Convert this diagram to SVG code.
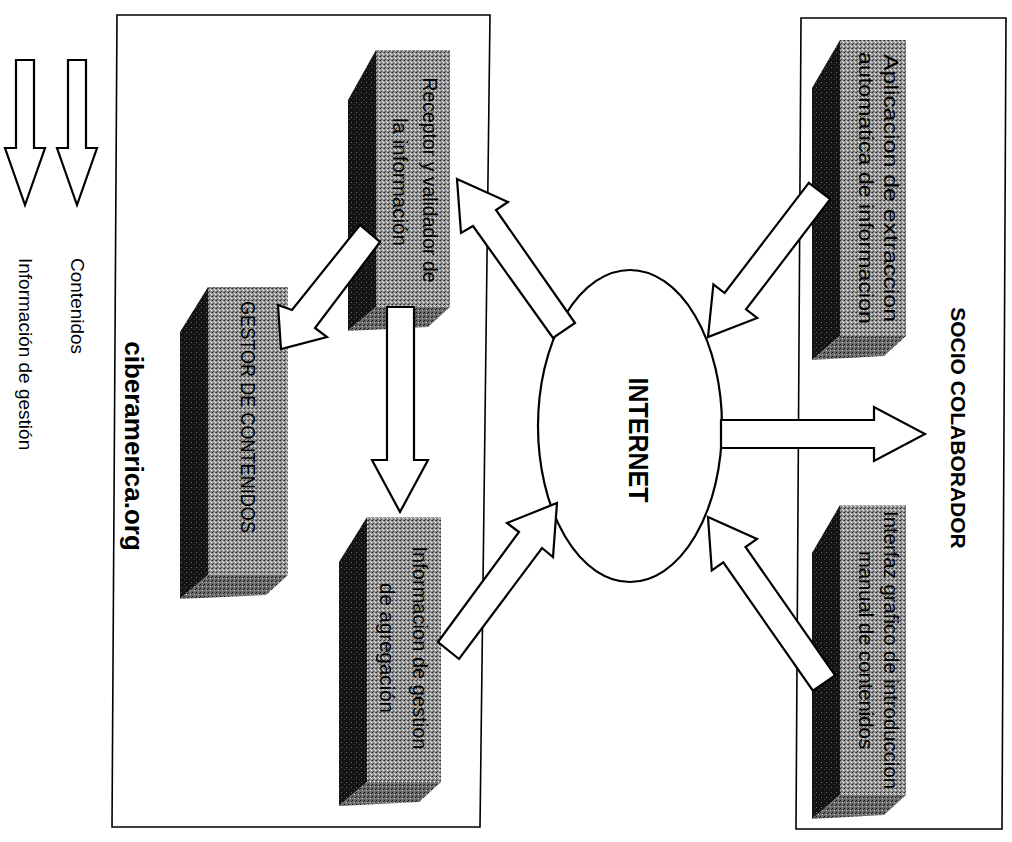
<svg xmlns="http://www.w3.org/2000/svg" width="1012" height="842" viewBox="0 0 1012 842">
<defs>
<pattern id="stipFront" width="4" height="4" patternUnits="userSpaceOnUse">
<rect width="4" height="4" fill="#969696"/>
<rect x="0" y="0" width="1" height="1" fill="#222"/>
<rect x="2" y="1" width="1" height="1" fill="#e8e8e8"/>
<rect x="1" y="3" width="1" height="1" fill="#444"/>
<rect x="3" y="2" width="1" height="1" fill="#f0f0f0"/>
<rect x="3" y="0" width="1" height="1" fill="#666"/>
</pattern>
<pattern id="stipSide" width="5" height="5" patternUnits="userSpaceOnUse">
<rect width="5" height="5" fill="#141414"/>
<rect x="1" y="2" width="1" height="1" fill="#6a6a6a"/>
<rect x="4" y="4" width="1" height="1" fill="#444"/>
</pattern>
<pattern id="stipBottom" width="4" height="4" patternUnits="userSpaceOnUse">
<rect width="4" height="4" fill="#6a6a6a"/>
<rect x="0" y="0" width="1" height="1" fill="#111"/>
<rect x="2" y="2" width="1" height="1" fill="#c8c8c8"/>
<rect x="3" y="1" width="1" height="1" fill="#222"/>
</pattern>
</defs>
<style>
.frame{fill:none;stroke:#000;stroke-width:1.6}
.front{fill:url(#stipFront)}
.side{fill:url(#stipSide)}
.bottom{fill:url(#stipBottom)}
.arrow{fill:#fff;stroke:#000;stroke-width:2.2;stroke-linejoin:miter}
.blk{font-family:"Liberation Sans",Arial,sans-serif;font-size:21px;fill:#000}
.title{font-family:"Liberation Sans",Arial,sans-serif;font-weight:bold;fill:#000}
.leg{font-family:"Liberation Sans",Arial,sans-serif;font-size:19px;fill:#000}
</style>
<rect width="1012" height="842" fill="#fff"/>

<g id="frame-ciberamerica">
<path class="frame" d="M117,15 L490,15 L480,827 L112,827 Z"/>
<text class="title" font-size="26" text-anchor="middle" dominant-baseline="central" transform="translate(134,446) rotate(90)">ciberamerica.org</text>
</g>
<g id="frame-socio">
<path class="frame" d="M801,18 L1006,18 L1002,829 L796,829 Z"/>
<text class="title" font-size="21" text-anchor="middle" dominant-baseline="central" transform="translate(958,428) rotate(90)">SOCIO COLABORADOR</text>
</g>

<g id="node-aplicacion">
<polygon class="side" points="840,40 812,88 812,360 840,336"/>
<polygon class="bottom" points="840,336 906,336 884,356 812,360"/>
<rect class="front" x="840" y="40" width="66" height="296"/>
<text class="blk" text-anchor="middle" dominant-baseline="central" textLength="268" lengthAdjust="spacingAndGlyphs" transform="translate(891,188) rotate(90)">Aplicacion de extraccion</text>
<text class="blk" text-anchor="middle" dominant-baseline="central" textLength="272" lengthAdjust="spacingAndGlyphs" transform="translate(866,188) rotate(90)">automatica de informacion</text>
</g>

<g id="node-interfaz">
<polygon class="side" points="840,505 812,553 812,819 840,795"/>
<polygon class="bottom" points="840,795 906,795 884,815 812,819"/>
<rect class="front" x="840" y="505" width="66" height="290"/>
<text class="blk" text-anchor="middle" dominant-baseline="central" textLength="278" lengthAdjust="spacingAndGlyphs" transform="translate(891,650) rotate(90)">Interfaz grafico de introduccion</text>
<text class="blk" text-anchor="middle" dominant-baseline="central" textLength="198" lengthAdjust="spacingAndGlyphs" transform="translate(866,650) rotate(90)">manual de contenidos</text>
</g>

<g id="node-receptor">
<polygon class="side" points="376,50 348,100 348,331 376,307"/>
<polygon class="bottom" points="376,307 450,307 428,327 348,331"/>
<rect class="front" x="376" y="50" width="74" height="257"/>
<text class="blk" text-anchor="middle" dominant-baseline="central" textLength="205" lengthAdjust="spacingAndGlyphs" transform="translate(430,180) rotate(90)">Receptor y validador de</text>
<text class="blk" text-anchor="middle" dominant-baseline="central" textLength="128" lengthAdjust="spacingAndGlyphs" transform="translate(400,182) rotate(90)">la información</text>
</g>

<g id="node-gestor">
<polygon class="side" points="208,287 180,332 180,599 208,575"/>
<polygon class="bottom" points="208,575 288,575 266,595 180,599"/>
<rect class="front" x="208" y="287" width="80" height="288"/>
<text class="blk" font-size="20" text-anchor="middle" dominant-baseline="central" textLength="232" lengthAdjust="spacingAndGlyphs" transform="translate(248,417) rotate(90)">GESTOR DE CONTENIDOS</text>
</g>

<g id="node-informacion">
<polygon class="side" points="367,517 339,562 339,806 367,782"/>
<polygon class="bottom" points="367,782 441,782 419,802 339,806"/>
<rect class="front" x="367" y="517" width="74" height="265"/>
<text class="blk" text-anchor="middle" dominant-baseline="central" textLength="203" lengthAdjust="spacingAndGlyphs" transform="translate(420,648) rotate(90)">Informacion de gestion</text>
<text class="blk" text-anchor="middle" dominant-baseline="central" textLength="130" lengthAdjust="spacingAndGlyphs" transform="translate(387,648) rotate(90)">de agregación</text>
</g>

<g id="node-internet">
<ellipse cx="630" cy="426" rx="92" ry="156" fill="#fff" stroke="#000" stroke-width="2.2"/>
<text class="title" font-size="27" text-anchor="middle" dominant-baseline="central" textLength="125" lengthAdjust="spacingAndGlyphs" transform="translate(638,440) rotate(90)">INTERNET</text>
</g>

<g id="connectors">
<polygon class="arrow" points="808.8,182.8 724.6,293 713.4,284.4 708,337 757.2,318 746,309.4 830.2,199.2"/>
<polygon class="arrow" points="835.1,675.3 745.5,547 757,538.9 708,517 711.8,570.5 723.3,562.4 812.9,690.7"/>
<polygon class="arrow" points="721,420 874,420 874,407 925,434 874,461 874,448 721,448"/>
<polygon class="arrow" points="575,323 496,210 508,202 457,179 461,233 473,226 553,338"/>
<polygon class="arrow" points="438,642 519,532 507,523 557,503 553,557 542,548 459,659"/>
<polygon class="arrow" points="360,225 292,310 278,305 281,349 327,337 315,328 380,242"/>
<polygon class="arrow" points="387,307 387,460 372,460 400,512 428,460 414,460 414,307"/>
</g>

<g id="legend">
<polygon class="arrow" points="68,60 68,148 57,148 77,205 97,148 86,148 86,60"/>
<polygon class="arrow" points="16,60 16,148 5,148 25,205 45,148 34,148 34,60"/>
<text class="leg" text-anchor="start" dominant-baseline="central" transform="translate(77,258) rotate(90)">Contenidos</text>
<text class="leg" text-anchor="start" dominant-baseline="central" transform="translate(25,258) rotate(90)">Información de gestión</text>
</g>
</svg>
